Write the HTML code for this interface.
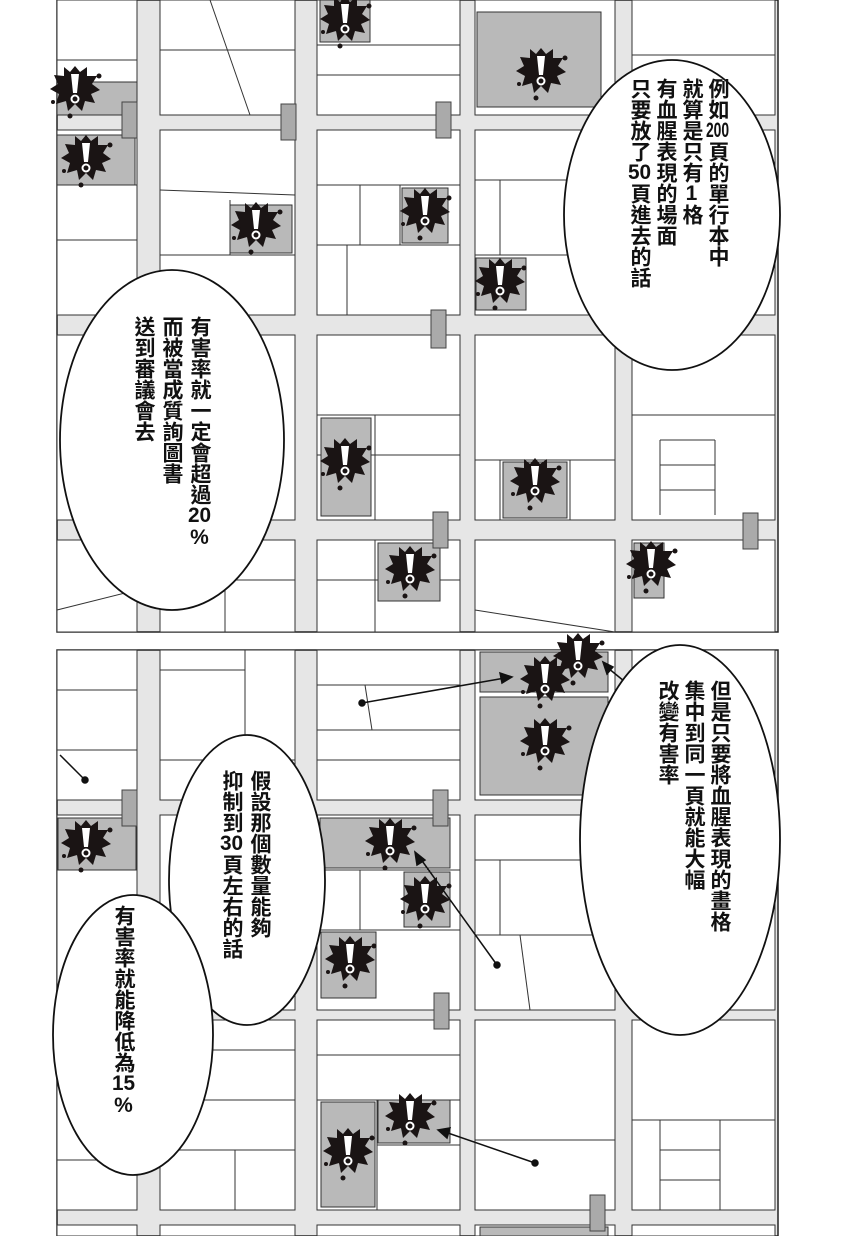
<!DOCTYPE html>
<html><head><meta charset="utf-8">
<style>
html,body{margin:0;padding:0;background:#fff;}
body{width:860px;height:1236px;position:relative;overflow:hidden;font-family:"Liberation Sans","Noto Sans CJK TC",sans-serif;}
svg{position:absolute;left:0;top:0;}
.t{position:absolute;writing-mode:vertical-rl;font-family:"Liberation Sans","Noto Sans CJK TC",sans-serif;font-weight:bold;font-size:21px;line-height:27px;color:#111;letter-spacing:0px;white-space:nowrap;}
.u{text-combine-upright:all;}
.o{text-orientation:upright;}
</style></head><body>
<svg width="860" height="1236" viewBox="0 0 860 1236">
<defs>
<g id="b">
<path d="M0,-22 L5,-16 L12,-21 L12,-12 L22,-12 L17,-4 L25,2 L16,6 L20,15 L10,13 L7,23 L0,16 L-7,23 L-9,13 L-19,16 L-16,6 L-25,1 L-17,-4 L-21,-13 L-11,-12 L-11,-21 L-5,-16Z" fill="#1a1414"/>
<circle r="16" fill="#1a1414"/>
<circle cx="24" cy="-12" r="2.5" fill="#1a1414"/><circle cx="-22" cy="14" r="2" fill="#1a1414"/><circle cx="-5" cy="28" r="2.5" fill="#1a1414"/>
<path d="M-4,-14 L4,-14 L2,5 L-2,5Z" fill="#fff"/>
<circle cy="11" r="3.5" fill="none" stroke="#fff" stroke-width="2"/>
</g>
</defs>
<rect x="57" y="0" width="721" height="632" fill="#e6e6e6" stroke="#222" stroke-width="1.5"/>
<g fill="#fff" stroke="#333" stroke-width="1">
<rect x="57" y="0" width="80" height="115"/><rect x="57" y="130" width="80" height="185"/><rect x="57" y="335" width="80" height="185"/><rect x="57" y="540" width="80" height="92"/>
<rect x="160" y="0" width="135" height="115"/><rect x="160" y="130" width="135" height="185"/><rect x="160" y="335" width="135" height="185"/><rect x="160" y="540" width="135" height="92"/>
<rect x="317" y="0" width="143" height="115"/><rect x="317" y="130" width="143" height="185"/><rect x="317" y="335" width="143" height="185"/><rect x="317" y="540" width="143" height="92"/>
<rect x="475" y="0" width="140" height="115"/><rect x="475" y="130" width="140" height="185"/><rect x="475" y="335" width="140" height="185"/><rect x="475" y="540" width="140" height="92"/>
<rect x="632" y="0" width="143" height="115"/><rect x="632" y="130" width="143" height="185"/><rect x="632" y="335" width="143" height="185"/><rect x="632" y="540" width="143" height="92"/>
</g>
<g fill="none" stroke="#333" stroke-width="1">
<line x1="317" y1="45" x2="460" y2="45"/><line x1="317" y1="75" x2="460" y2="75"/>
<line x1="317" y1="185" x2="460" y2="185"/><line x1="317" y1="245" x2="460" y2="245"/><line x1="360" y1="185" x2="360" y2="245"/><line x1="400" y1="185" x2="400" y2="245"/><line x1="347" y1="245" x2="347" y2="315"/>
<line x1="317" y1="415" x2="460" y2="415"/><line x1="317" y1="455" x2="460" y2="455"/><line x1="375" y1="415" x2="375" y2="520"/>
<line x1="317" y1="580" x2="460" y2="580"/><line x1="375" y1="540" x2="375" y2="632"/>
<line x1="475" y1="180" x2="615" y2="180"/><line x1="475" y1="255" x2="615" y2="255"/><line x1="500" y1="180" x2="500" y2="255"/>
<line x1="475" y1="460" x2="615" y2="460"/><line x1="500" y1="460" x2="500" y2="520"/><line x1="570" y1="460" x2="570" y2="520"/>
<line x1="475" y1="610" x2="615" y2="632"/>
<line x1="160" y1="190" x2="295" y2="195"/><line x1="160" y1="255" x2="295" y2="255"/><line x1="230" y1="200" x2="230" y2="255"/>
<line x1="160" y1="50" x2="295" y2="50"/><line x1="210" y1="0" x2="250" y2="115"/>
<line x1="57" y1="60" x2="137" y2="60"/><line x1="57" y1="185" x2="137" y2="185"/><line x1="57" y1="240" x2="137" y2="240"/>
<line x1="57" y1="610" x2="137" y2="590"/><line x1="160" y1="580" x2="295" y2="580"/><line x1="225" y1="540" x2="225" y2="632"/>
<line x1="632" y1="415" x2="775" y2="415"/><line x1="660" y1="440" x2="715" y2="440"/><line x1="660" y1="465" x2="715" y2="465"/><line x1="660" y1="490" x2="715" y2="490"/><line x1="660" y1="440" x2="660" y2="515"/><line x1="715" y1="440" x2="715" y2="515"/>
<line x1="632" y1="55" x2="775" y2="55"/>
</g>
<g fill="#b9b9b9" stroke="#333">
<rect x="57" y="82" width="80" height="33"/><rect x="57" y="135" width="78" height="50"/><rect x="230" y="205" width="62" height="48"/>
<rect x="320" y="0" width="50" height="42"/><rect x="477" y="12" width="124" height="95"/><rect x="402" y="188" width="46" height="55"/>
<rect x="476" y="258" width="50" height="52"/><rect x="321" y="418" width="50" height="98"/><rect x="503" y="462" width="64" height="56"/>
<rect x="378" y="543" width="62" height="58"/><rect x="634" y="543" width="30" height="55"/>
</g>
<g fill="#aaa" stroke="#444">
<rect x="122" y="102" width="15" height="36"/><rect x="281" y="104" width="15" height="36"/><rect x="436" y="102" width="15" height="36"/>
<rect x="431" y="310" width="15" height="38"/><rect x="433" y="512" width="15" height="36"/><rect x="743" y="513" width="15" height="36"/>
</g>
<rect x="57" y="650" width="721" height="586" fill="#e6e6e6" stroke="#222" stroke-width="1.5"/>
<g fill="#fff" stroke="#333" stroke-width="1">
<rect x="57" y="650" width="80" height="150"/><rect x="57" y="815" width="80" height="195"/><rect x="57" y="1020" width="80" height="190"/><rect x="57" y="1225" width="80" height="11"/>
<rect x="160" y="650" width="135" height="150"/><rect x="160" y="815" width="135" height="195"/><rect x="160" y="1020" width="135" height="190"/><rect x="160" y="1225" width="135" height="11"/>
<rect x="317" y="650" width="143" height="150"/><rect x="317" y="815" width="143" height="195"/><rect x="317" y="1020" width="143" height="190"/><rect x="317" y="1225" width="143" height="11"/>
<rect x="475" y="650" width="140" height="150"/><rect x="475" y="815" width="140" height="195"/><rect x="475" y="1020" width="140" height="190"/><rect x="475" y="1225" width="140" height="11"/>
<rect x="632" y="650" width="143" height="150"/><rect x="632" y="815" width="143" height="195"/><rect x="632" y="1020" width="143" height="190"/><rect x="632" y="1225" width="143" height="11"/>
</g>
<g fill="none" stroke="#333" stroke-width="1">
<line x1="317" y1="685" x2="460" y2="685"/><line x1="317" y1="730" x2="460" y2="730"/><line x1="317" y1="760" x2="460" y2="760"/><line x1="365" y1="685" x2="372" y2="730"/>
<line x1="317" y1="870" x2="460" y2="870"/><line x1="317" y1="930" x2="460" y2="930"/><line x1="360" y1="870" x2="360" y2="930"/>
<line x1="317" y1="1055" x2="460" y2="1055"/><line x1="317" y1="1100" x2="460" y2="1100"/><line x1="377" y1="1100" x2="377" y2="1210"/><line x1="377" y1="1145" x2="460" y2="1145"/>
<line x1="475" y1="860" x2="615" y2="860"/><line x1="475" y1="935" x2="615" y2="935"/><line x1="500" y1="860" x2="500" y2="935"/><line x1="520" y1="935" x2="530" y2="1010"/>
<line x1="475" y1="1140" x2="615" y2="1140"/>
<line x1="160" y1="670" x2="245" y2="670"/><line x1="245" y1="650" x2="245" y2="760"/><line x1="160" y1="760" x2="295" y2="760"/>
<line x1="160" y1="1050" x2="295" y2="1050"/><line x1="160" y1="1100" x2="295" y2="1100"/><line x1="160" y1="1150" x2="295" y2="1150"/><line x1="235" y1="1150" x2="235" y2="1210"/>
<line x1="57" y1="690" x2="137" y2="690"/><line x1="57" y1="750" x2="137" y2="750"/><line x1="57" y1="870" x2="137" y2="870"/><line x1="57" y1="1160" x2="137" y2="1160"/>
<line x1="632" y1="1120" x2="775" y2="1120"/><line x1="660" y1="1120" x2="660" y2="1210"/><line x1="720" y1="1120" x2="720" y2="1210"/><line x1="660" y1="1150" x2="720" y2="1150"/><line x1="660" y1="1180" x2="720" y2="1180"/>
</g>
<g fill="#b9b9b9" stroke="#333">
<rect x="480" y="652" width="128" height="40"/><rect x="480" y="697" width="128" height="98"/>
<rect x="320" y="818" width="130" height="50"/><rect x="404" y="872" width="46" height="55"/><rect x="321" y="932" width="55" height="66"/>
<rect x="58" y="818" width="78" height="52"/><rect x="378" y="1100" width="72" height="43"/><rect x="321" y="1102" width="54" height="105"/>
<rect x="480" y="1227" width="128" height="9"/>
</g>
<g fill="#aaa" stroke="#444">
<rect x="122" y="790" width="15" height="36"/><rect x="433" y="790" width="15" height="36"/><rect x="434" y="993" width="15" height="36"/><rect x="590" y="1195" width="15" height="36"/>
</g>
<use href="#b" x="75" y="88"/><use href="#b" x="86" y="157"/><use href="#b" x="256" y="224"/><use href="#b" x="345" y="18"/>
<use href="#b" x="541" y="70"/><use href="#b" x="425" y="210"/><use href="#b" x="500" y="280"/><use href="#b" x="345" y="460"/>
<use href="#b" x="535" y="480"/><use href="#b" x="410" y="568"/><use href="#b" x="651" y="563"/>
<use href="#b" x="545" y="678"/><use href="#b" x="578" y="655"/><use href="#b" x="545" y="740"/><use href="#b" x="86" y="842"/>
<use href="#b" x="390" y="840"/><use href="#b" x="425" y="898"/><use href="#b" x="350" y="958"/><use href="#b" x="410" y="1115"/><use href="#b" x="348" y="1150"/>
<g stroke="#111" stroke-width="1.5" fill="#111">
<line x1="362" y1="703" x2="505" y2="678"/><path d="M512,677 L500,673 L502,683Z"/><circle cx="362" cy="703" r="3"/>
<line x1="497" y1="965" x2="420" y2="858"/><path d="M415,852 L417,865 L425,860Z"/><circle cx="497" cy="965" r="3"/>
<line x1="535" y1="1163" x2="445" y2="1132"/><path d="M438,1130 L447,1138 L450,1128Z"/><circle cx="535" cy="1163" r="3"/>
<line x1="85" y1="780" x2="60" y2="755"/><circle cx="85" cy="780" r="3"/>
<line x1="635" y1="690" x2="608" y2="668"/><path d="M603,662 L607,674 L613,667Z"/>
</g>
<g fill="#fff" stroke="#111" stroke-width="1.8">
<ellipse cx="672" cy="215" rx="108" ry="155"/>
<ellipse cx="172" cy="440" rx="112" ry="170"/>
<ellipse cx="680" cy="840" rx="100" ry="195"/>
<ellipse cx="247" cy="880" rx="78" ry="145"/>
<ellipse cx="133" cy="1035" rx="80" ry="140"/>
</g>
</svg>
<div class="t" style="left:704px;top:78px;">例如<span class="u">200</span>頁的單行本中</div>
<div class="t" style="left:678px;top:78px;">就算是只有<span class="u">1</span>格</div>
<div class="t" style="left:652px;top:78px;">有血腥表現的場面</div>
<div class="t" style="left:626px;top:78px;">只要放了<span class="u">50</span>頁進去的話</div>
<div class="t" style="left:186px;top:316px;">有害率就一定會超過<span class="u">20</span><span class="o">%</span></div>
<div class="t" style="left:158px;top:316px;">而被當成質詢圖書</div>
<div class="t" style="left:130px;top:316px;">送到審議會去</div>
<div class="t" style="left:706px;top:680px;">但是只要將血腥表現的畫格</div>
<div class="t" style="left:680px;top:680px;">集中到同一頁就能大幅</div>
<div class="t" style="left:654px;top:680px;">改變有害率</div>
<div class="t" style="left:246px;top:770px;">假設那個數量能夠</div>
<div class="t" style="left:218px;top:770px;">抑制到<span class="u">30</span>頁左右的話</div>
<div class="t" style="left:110px;top:905px;">有害率就能降低為<span class="u">15</span><span class="o">%</span></div>
</body></html>
